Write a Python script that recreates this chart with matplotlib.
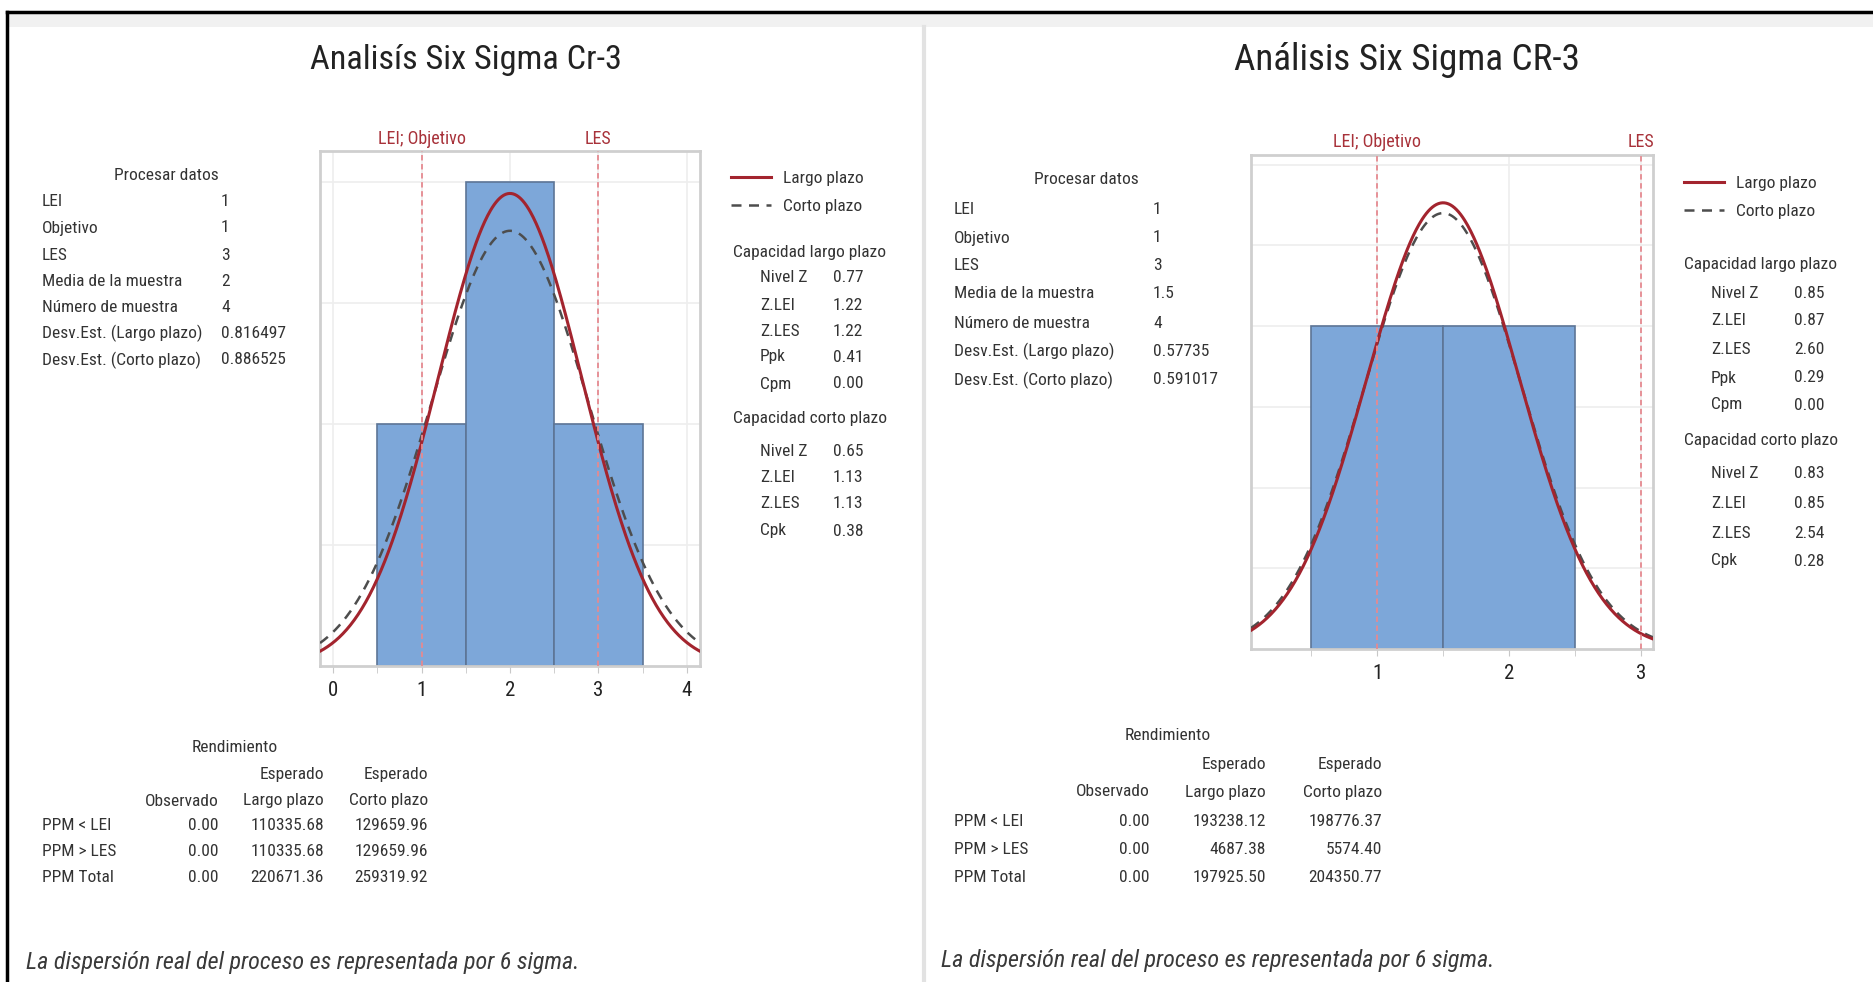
import os
import numpy as np
import matplotlib
matplotlib.use("Agg")
import matplotlib.pyplot as plt
from matplotlib import font_manager
from matplotlib.font_manager import FontProperties
from matplotlib.lines import Line2D

# ---- data read from the two Minitab capability reports ----
titles = ["Analisís Six Sigma Cr-3", "Análisis Six Sigma CR-3"]
bin_edges = [[0.5, 1.5, 2.5, 3.5], [0.5, 1.5, 2.5]]
bin_counts = [[1, 2, 1], [2, 2]]
lei = [1, 1]
les = [3, 3]
sample_mean = [2, 1.5]
sample_n = [4, 4]
sd_long = [0.816497, 0.57735]
sd_short = [0.886525, 0.591017]
xticks = [[0, 1, 2, 3, 4], [1, 2, 3]]

proc_labels = ["LEI", "Objetivo", "LES", "Media de la muestra", "Número de muestra",
               "Desv.Est. (Largo plazo)", "Desv.Est. (Corto plazo)"]
proc_values = [["1", "1", "3", "2", "4", "0.816497", "0.886525"],
               ["1", "1", "3", "1.5", "4", "0.57735", "0.591017"]]

cap_long_labels = ["Nivel Z", "Z.LEI", "Z.LES", "Ppk", "Cpm"]
cap_long_values = [["0.77", "1.22", "1.22", "0.41", "0.00"],
                   ["0.85", "0.87", "2.60", "0.29", "0.00"]]
cap_short_labels = ["Nivel Z", "Z.LEI", "Z.LES", "Cpk"]
cap_short_values = [["0.65", "1.13", "1.13", "0.38"],
                    ["0.83", "0.85", "2.54", "0.28"]]

ppm_labels = ["PPM < LEI", "PPM > LES", "PPM Total"]
ppm_observed = [["0.00", "0.00", "0.00"], ["0.00", "0.00", "0.00"]]
ppm_long = [["110335.68", "110335.68", "220671.36"], ["193238.12", "4687.38", "197925.50"]]
ppm_short = [["129659.96", "129659.96", "259319.92"], ["198776.37", "5574.40", "204350.77"]]

footnote = "La dispersión real del proceso es representada por 6 sigma."

# ---- layout (pixel positions in the 1874x982 canvas) ----
W, H = 1874, 982
panels = [
    dict(ax=(320, 151, 700, 666), xlim=(-0.15, 4.15), ylim=(0, 2.13), title=(466, 60), title_w=311,
         spec_y=139, leg=(722, 162), cap_x=(733, 760, 833),
         cap_y=[253, 278, 305, 331, 357, 384, 418, 451, 477, 503, 531],
         proc=(166, 176, 42, 221, [202, 228, 255, 281, 307, 333, 360]),
         rend=(235, 748, 42, [219, 324, 428], [775, 801, 826, 852, 878]), foot=(26, 962)),
    dict(ax=(1251, 155, 1653, 649), xlim=(0.045, 3.09), ylim=(0, 3.06), title=(1407, 60), title_w=345,
         spec_y=142, leg=(1675, 167), cap_x=(1684, 1711, 1794),
         cap_y=[264, 293, 320, 349, 378, 405, 441, 474, 503, 533, 561],
         proc=(1086, 180, 954, 1153, [209, 238, 265, 294, 323, 351, 380]),
         rend=(1168, 736, 954, [1150, 1266, 1382], [764, 792, 821, 850, 877]), foot=(941, 960)),
]


# look for a narrow sans face (the report uses a condensed font)
def find_narrow(style):
    pref = ["liberation sans narrow", "roboto condensed", "open sans condensed", "noto sans",
            "dejavu sans", "lato", "inter"]
    best, best_rank = None, 99
    for f in font_manager.fontManager.ttflist:
        key = (f.name + " " + os.path.basename(f.fname)).lower()
        if not ("narrow" in key or "condensed" in key or f.stretch in ("condensed", "semi-condensed")):
            continue
        if "mono" in key or "cjk" in key or "extra" in key or "ultra" in key:
            continue
        if "serif" in key and "sans" not in key:
            continue
        if f.style != style or f.weight not in (400, "normal", "regular"):
            continue
        rank = next((k for k, n in enumerate(pref) if n in key), 50)
        if rank < best_rank:
            best, best_rank = f.fname, rank
    return best


reg_file = find_narrow("normal")
ita_file = find_narrow("italic")


def prop(italic=False):
    f = ita_file if italic else reg_file
    if f is None:
        f = reg_file
    if f is None:
        return FontProperties(family="DejaVu Sans", style="italic" if italic else "normal")
    return FontProperties(fname=f, style="italic" if italic and ita_file is None else "normal")


txt_col = "#333333"
bar_col = "#7da7d9"
bar_edge = "#5d7596"
long_col = "#a3242e"
short_col = "#4d4d4d"
spec_col = "#e68a90"
spec_txt = "#a8323a"

fig = plt.figure(figsize=(W / 100, H / 100), dpi=100)
renderer = fig.canvas.get_renderer()


def fit_size(s, target_px, italic=False, cap=None):
    p = prop(italic)
    p.set_size(10)
    t = fig.text(0, 0, s, fontproperties=p)
    w = t.get_window_extent(renderer).width
    t.remove()
    size = 10 * target_px / w
    return min(size, cap) if cap else size


fs = fit_size("Desv.Est. (Largo plazo)", 160, cap=12.5)
fs_foot = fit_size(footnote, 552, italic=True, cap=17.5)
fs_spec = fit_size("LEI; Objetivo", 90, cap=13)


def T(x, y, s, size=None, italic=False, **kw):
    p = prop(italic)
    p.set_size(size or fs)
    kw.setdefault("color", txt_col)
    kw.setdefault("va", "center")
    fig.text(x / W, 1 - y / H, s, fontproperties=p, **kw)


# frame decoration of the screenshot
fig.add_artist(Line2D([7 / W, 7 / W], [0, 1 - 12 / H], color="black", lw=2.5))
fig.add_artist(Line2D([7 / W, 1], [1 - 12 / H, 1 - 12 / H], color="black", lw=2.5))
fig.add_artist(plt.Rectangle((9 / W, 1 - 27 / H), 1 - 9 / W, 14 / H, color="#f1f1f1", lw=0))
fig.add_artist(Line2D([924 / W, 924 / W], [0, 1 - 27 / H], color="#e2e2e2", lw=3))

for i, p in enumerate(panels):
    x0, y0, x1, y1 = p["ax"]
    ax = fig.add_axes([x0 / W, 1 - y1 / H, (x1 - x0) / W, (y1 - y0) / H])
    edges = np.array(bin_edges[i])
    ax.bar(edges[:-1], bin_counts[i], width=np.diff(edges), align="edge",
           color=bar_col, edgecolor=bar_edge, linewidth=1.2, zorder=2)
    xs = np.linspace(p["xlim"][0], p["xlim"][1], 400)
    bw = edges[1] - edges[0]
    for sd, col, ls, lw in [(sd_short[i], short_col, (0, (4, 3)), 1.8), (sd_long[i], long_col, "-", 2.2)]:
        ys = sample_n[i] * bw / (sd * np.sqrt(2 * np.pi)) * np.exp(-0.5 * ((xs - sample_mean[i]) / sd) ** 2)
        ax.plot(xs, ys, color=col, ls=ls, lw=lw, zorder=3)
    for v in (lei[i], les[i]):
        ax.axvline(v, color=spec_col, ls=(0, (3, 2)), lw=1.3, zorder=4)
    ax.set_xlim(p["xlim"])
    ax.set_ylim(p["ylim"])
    ax.set_xticks(xticks[i])
    ax.set_xticks(edges, minor=True)
    ax.set_yticks(np.arange(0.5, p["ylim"][1], 0.5))
    ax.tick_params(axis="y", length=0, labelleft=False)
    ax.tick_params(axis="x", which="both", length=5, color="#c8c8c8", pad=6)
    tp = prop()
    tp.set_size(15)
    for lab in ax.get_xticklabels():
        lab.set_fontproperties(tp)
        lab.set_color("#222222")
    ax.grid(True, color="#eeeeee", lw=1.2, zorder=0)
    ax.set_axisbelow(True)
    for s in ax.spines.values():
        s.set_color("#cfcfcf")
        s.set_linewidth(2)

    # spec labels
    for v, lab in [(lei[i], "LEI; Objetivo"), (les[i], "LES")]:
        xp = x0 + (v - p["xlim"][0]) / (p["xlim"][1] - p["xlim"][0]) * (x1 - x0)
        T(xp, p["spec_y"], lab, size=fs_spec, color=spec_txt, ha="center")

    # title
    T(p["title"][0], p["title"][1], titles[i], size=fit_size(titles[i], p["title_w"], cap=28),
      ha="center", color="#222222")

    # legend
    lx, ly = p["leg"]
    handles = [Line2D([0], [0], color=long_col, lw=2.2, label="Largo plazo"),
               Line2D([0], [0], color=short_col, lw=1.8, ls=(0, (4, 3)), label="Corto plazo")]
    lp = prop()
    lp.set_size(fs)
    fig.legend(handles=handles, loc="upper left", bbox_to_anchor=(lx / W, 1 - ly / H), frameon=False,
               prop=lp, handlelength=2.3, handletextpad=0.7, labelspacing=0.75, borderpad=0,
               labelcolor=txt_col)

    # capability tables
    hx, ix, vx = p["cap_x"]
    cy = p["cap_y"]
    T(hx, cy[0], "Capacidad largo plazo")
    for j, (lab, val) in enumerate(zip(cap_long_labels, cap_long_values[i])):
        T(ix, cy[1 + j], lab)
        T(vx, cy[1 + j], val)
    T(hx, cy[6], "Capacidad corto plazo")
    for j, (lab, val) in enumerate(zip(cap_short_labels, cap_short_values[i])):
        T(ix, cy[7 + j], lab)
        T(vx, cy[7 + j], val)

    # process data
    pcx, pcy, plx, pvx, prows = p["proc"]
    T(pcx, pcy, "Procesar datos", ha="center")
    for j, (lab, val) in enumerate(zip(proc_labels, proc_values[i])):
        T(plx, prows[j], lab)
        T(pvx, prows[j], val)

    # performance table
    rcx, rcy, rlx, rcols, rrows = p["rend"]
    T(rcx, rcy, "Rendimiento", ha="center")
    T(rcols[1], rrows[0], "Esperado", ha="right")
    T(rcols[2], rrows[0], "Esperado", ha="right")
    T(rcols[0], rrows[1], "Observado", ha="right")
    T(rcols[1], rrows[1], "Largo plazo", ha="right")
    T(rcols[2], rrows[1], "Corto plazo", ha="right")
    for j, lab in enumerate(ppm_labels):
        T(rlx, rrows[2 + j], lab)
        T(rcols[0], rrows[2 + j], ppm_observed[i][j], ha="right")
        T(rcols[1], rrows[2 + j], ppm_long[i][j], ha="right")
        T(rcols[2], rrows[2 + j], ppm_short[i][j], ha="right")

    T(p["foot"][0], p["foot"][1], footnote, size=fs_foot, italic=True, color="#3a3a3a")

fig.savefig("out.png", dpi=100)
